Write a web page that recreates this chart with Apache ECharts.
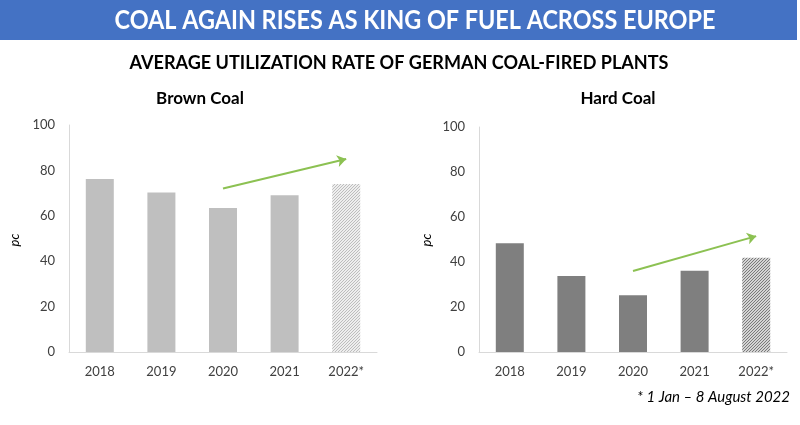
<!DOCTYPE html>
<html>
<head>
<meta charset="utf-8">
<script src="https://cdn.jsdelivr.net/npm/echarts@6/dist/echarts.min.js"></script>
<style>html,body{margin:0;padding:0;background:#fff}#c{width:800px;height:425px}</style>
</head>
<body>
<div id="c"></div>
<script>
const categories = ['2018', '2019', '2020', '2021', '2022*'];
const brownCoal = [76.2, 70.3, 63.4, 69.0, 74.0];
const hardCoal = [48.3, 33.8, 25.2, 36.1, 41.9];
const brownTrend = [['2020', 72], ['2022*', 85]];
const hardTrend = [['2020', 36], ['2022*', 51.5]];
const mainTitle = 'COAL AGAIN RISES AS KING OF FUEL ACROSS EUROPE';
const subTitle = 'AVERAGE UTILIZATION RATE OF GERMAN COAL-FIRED PLANTS';
const panelTitles = ['Brown Coal', 'Hard Coal'];
const axisName = 'pc';
const footnote = '* 1 Jan \u2013 8 August 2022';

function hatch(bg, fg, step) {
  const c = document.createElement('canvas');
  c.width = step; c.height = step;
  const g = c.getContext('2d');
  g.fillStyle = bg; g.fillRect(0, 0, step, step);
  g.strokeStyle = fg; g.lineWidth = 1;
  g.beginPath();
  g.moveTo(-1, step + 1); g.lineTo(step + 1, -1);
  g.moveTo(-1, 1); g.lineTo(1, -1);
  g.moveTo(step - 1, step + 1); g.lineTo(step + 1, step - 1);
  g.stroke();
  return { image: c, repeat: 'repeat' };
}

const FONT = 'Lato';
const chart = echarts.init(document.getElementById('c'), null, { renderer: 'canvas' });

function barData(vals, solid, pattern) {
  return vals.map((v, i) => ({
    value: v,
    itemStyle: { color: i === vals.length - 1 ? pattern : solid }
  }));
}

const grids = [
  { left: 69, top: 125, width: 308, height: 227 },
  { left: 479, top: 127, width: 308, height: 225 }
];

function xAxis(idx) {
  return {
    type: 'category', gridIndex: idx, data: categories,
    axisLine: { lineStyle: { color: '#d9d9d9', width: 1 } },
    axisTick: { show: false },
    axisLabel: { color: '#404040', fontSize: 13, fontFamily: FONT, margin: 13 }
  };
}
function yAxis(idx) {
  return {
    type: 'value', gridIndex: idx, min: 0, max: 100, interval: 20,
    axisLine: { show: true, lineStyle: { color: '#d9d9d9', width: 1 } },
    axisTick: { show: false },
    splitLine: { show: false },
    axisLabel: { color: '#404040', fontSize: 13, fontFamily: FONT, margin: 14 }
  };
}
function trend(pts) {
  return {
    silent: true, symbol: ['none', 'arrow'], symbolSize: 9,
    lineStyle: { color: '#8cc152', width: 2, type: 'solid' },
    itemStyle: { color: '#8cc152' },
    label: { show: false },
    data: [[{ coord: pts[0] }, { coord: pts[1] }]]
  };
}

chart.setOption({
  animation: false,
  backgroundColor: '#ffffff',
  graphic: [
    { type: 'rect', left: 0, top: 0, shape: { width: 797, height: 40 }, style: { fill: '#4472c4' } },
    { type: 'text', x: 415, y: 21, scaleX: 0.9, style: { text: mainTitle, fill: '#ffffff', font: 'bold 26px ' + FONT, align: 'center', verticalAlign: 'middle' } },
    { type: 'text', x: 399, y: 63, scaleX: 0.95, style: { text: subTitle, fill: '#000000', font: 'bold 19px ' + FONT, align: 'center', verticalAlign: 'middle' } },
    { type: 'text', x: 200, y: 99, style: { text: panelTitles[0], fill: '#000000', font: 'bold 17px ' + FONT, align: 'center', verticalAlign: 'middle' } },
    { type: 'text', x: 618, y: 99, style: { text: panelTitles[1], fill: '#000000', font: 'bold 17px ' + FONT, align: 'center', verticalAlign: 'middle' } },
    { type: 'text', x: 15, y: 240, rotation: Math.PI / 2, style: { text: axisName, fill: '#000000', font: 'italic 13px ' + FONT, align: 'center', verticalAlign: 'middle' } },
    { type: 'text', x: 427, y: 240, rotation: Math.PI / 2, style: { text: axisName, fill: '#000000', font: 'italic 13px ' + FONT, align: 'center', verticalAlign: 'middle' } },
    { type: 'text', right: 10, top: 390, style: { text: footnote, fill: '#000000', font: 'italic 15px ' + FONT } }
  ],
  grid: grids,
  xAxis: [xAxis(0), xAxis(1)],
  yAxis: [yAxis(0), yAxis(1)],
  series: [
    {
      type: 'bar', xAxisIndex: 0, yAxisIndex: 0, barWidth: 28,
      data: barData(brownCoal, '#bfbfbf', hatch('#eeeeee', '#bdbdbd', 3)),
      markLine: trend(brownTrend)
    },
    {
      type: 'bar', xAxisIndex: 1, yAxisIndex: 1, barWidth: 28,
      data: barData(hardCoal, '#7f7f7f', hatch('#d4d4d4', '#7a7a7a', 3)),
      markLine: trend(hardTrend)
    }
  ]
});
</script>
</body>
</html>
